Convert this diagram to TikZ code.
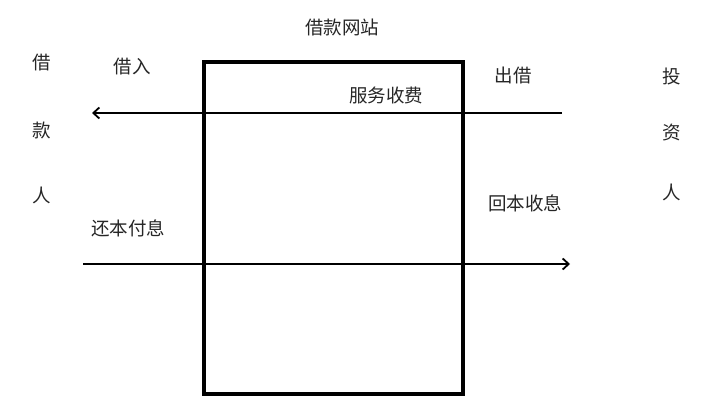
\documentclass[tikz,border=0pt]{standalone}
\usepackage{fontspec}
\newfontfamily\cjk{Noto Sans CJK SC}
\usetikzlibrary{arrows.meta}
\begin{document}
\begin{tikzpicture}[x=1pt,y=-1pt,
  lbl/.style={font=\cjk\fontsize{18.5}{18.5}\selectfont, text=black!85, inner sep=0pt},
  flow/.style={line width=1.6pt, -{Straight Barb[length=6pt,width=11pt,line width=1.8pt]}},
  site/.style={draw, line width=4pt}]
\useasboundingbox (0,0) rectangle (707,412);
\draw[site] (204,62) rectangle (463,394);
\node[lbl] (title) at (342,27) {借款网站};
\node[lbl] (b1) at (42,63) {借};
\node[lbl] (b2) at (42,130) {款};
\node[lbl] (b3) at (42,195) {人};
\node[lbl] (t1) at (672,76) {投};
\node[lbl] (t2) at (672,133) {资};
\node[lbl] (t3) at (672,192) {人};
\node[lbl] (jr) at (132,67) {借入};
\node[lbl] (cj) at (513,76) {出借};
\node[lbl] (fw) at (386,95) {服务收费};
\node[lbl] (hb) at (525,203) {回本收息};
\node[lbl] (hx) at (128,228) {还本付息};
\coordinate (a1s) at (562,113);
\coordinate (a1e) at (92,113);
\coordinate (a2s) at (83,264);
\coordinate (a2e) at (570,264);
\draw[flow] (a1s) -- (a1e);
\draw[flow] (a2s) -- (a2e);
\end{tikzpicture}
\end{document}
